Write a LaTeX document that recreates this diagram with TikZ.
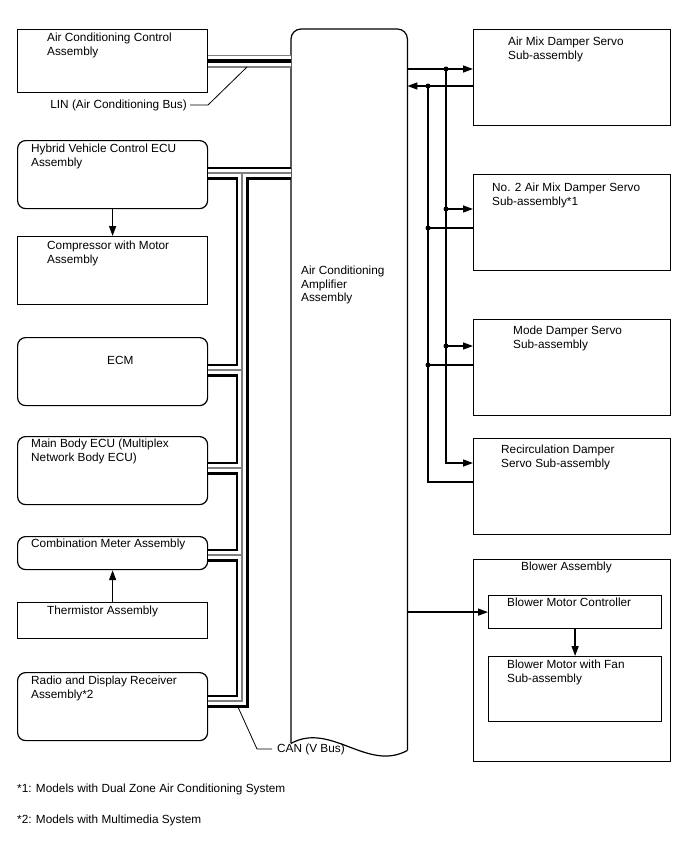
\documentclass[tikz,border=0pt]{standalone}
\usepackage{fontspec}
\setmainfont{Liberation Sans}
\usetikzlibrary{arrows.meta, calc}

\tikzset{
  unit/.style={draw, line width=1.2pt, inner sep=0pt, anchor=north west},
  ecu/.style={unit, rounded corners=8pt},
  txt/.style={inner sep=0pt, anchor=north west, align=left, font=\fontsize{11.8}{13.5}\selectfont},
  conn/.style={line width=1.4pt},
  lead/.style={line width=0.8pt},
  tap/.style={circle, fill, inner sep=0pt, minimum size=5pt},
}

\begin{document}
\begin{tikzpicture}[x=1pt, y=-1pt, >={Triangle[length=10pt,width=7pt]}]
  \useasboundingbox (0,0) rectangle (688,852);
  % left column
  \node[unit, minimum width=190pt, minimum height=63pt] (acc) at (17,29) {};
  \node[ecu, minimum width=190pt, minimum height=68pt] (hv) at (17,140) {};
  \node[unit, minimum width=190pt, minimum height=68pt] (comp) at (17,236) {};
  \node[ecu, minimum width=190pt, minimum height=68pt] (ecm) at (17,337) {};
  \node[ecu, minimum width=190pt, minimum height=68pt] (body) at (17,436) {};
  \node[ecu, minimum width=190pt, minimum height=33pt] (meter) at (17,536) {};
  \node[unit, minimum width=190pt, minimum height=36pt] (therm) at (17,602) {};
  \node[ecu, minimum width=190pt, minimum height=68pt] (radio) at (17,672) {};
  % right column
  \node[unit, minimum width=197pt, minimum height=96pt] (amd) at (473,29) {};
  \node[unit, minimum width=197pt, minimum height=96pt] (no2) at (473,174) {};
  \node[unit, minimum width=197pt, minimum height=96pt] (mode) at (473,319) {};
  \node[unit, minimum width=197pt, minimum height=96pt] (recirc) at (473,438) {};
  \node[unit, minimum width=197pt, minimum height=202pt] (blower) at (473,559) {};
  \node[unit, minimum width=173pt, minimum height=33pt] (bmc) at (488,595) {};
  \node[unit, minimum width=173pt, minimum height=65pt] (bmf) at (488,656) {};
  % amplifier, cut off at the bottom
  \node[inner sep=0pt, anchor=north west, minimum width=116pt, minimum height=714pt] (amp) at (291,29) {};
  \draw[line width=1.2pt, rounded corners=10pt] (amp.south west) -- (amp.north west)
    -- (amp.north east) -- ([yshift=-7pt]amp.south east);
  \draw[line width=1.2pt] ([yshift=-7pt]amp.south east) .. controls +(-40,22) and +(40,-22) .. (amp.south west);

  % LIN bus
  \foreach \w/\c in {13/gray, 10.5/white, 4/black}
    \draw[line width=\w pt, draw=\c] (acc.east |- 0,61) -- (amp.west |- 0,61);
  % CAN bus
  \coordinate (canT) at (242,173);
  \coordinate (canB) at (242,701);
  \foreach \w/\c in {13/black, 8/white, 1.2/gray}
    \draw[line width=\w pt, draw=\c] (hv.east |- canT) -- (amp.west |- canT)
      (canT) -- (canB) -- (radio.east |- canB)
      (ecm.east |- 0,370) -- (canT |- 0,370)
      (body.east |- 0,468) -- (canT |- 0,468)
      (meter.east |- 0,555) -- (canT |- 0,555);
  % bus labels
  \coordinate (linTap) at (247,67);
  \node[txt, anchor=east] (linLbl) at (187,105) {LIN (Air Conditioning Bus)};
  \draw[lead] (linTap) -- (208,105) -- ([xshift=3pt]linLbl.east);
  \coordinate (canTap) at (238,707);
  \node[txt, anchor=west] (canLbl) at (277,749) {CAN (V Bus)};
  \draw[lead] (canTap) -- (257,749) -- ([xshift=-5pt]canLbl.west);

  % damper servo lines
  \coordinate (txTap) at (446,69);
  \coordinate (rxTap) at (428,86);
  \draw[conn,->] (amp.east |- txTap) -- (amd.west |- txTap);
  \draw[conn,->] (amd.west |- rxTap) -- (amp.east |- rxTap);
  \draw[conn,->] (txTap) |- (recirc.west |- 0,463);
  \draw[conn] (rxTap) |- (recirc.west |- 0,482);
  \node[tap] (d1) at (txTap) {};
  \node[tap] (d2) at (rxTap) {};
  \foreach \s/\yt/\yr in {no2/209/228, mode/346/365} {
    \draw[conn,->] (446,\yt) -- (\s.west |- 0,\yt);
    \draw[conn] (428,\yr) -- (\s.west |- 0,\yr);
    \node[tap] (t\s) at (446,\yt) {};
    \node[tap] (r\s) at (428,\yr) {};
  }
  % other arrows
  \draw[conn,->] (amp.east |- bmc.west) -- (bmc.west);
  \draw[conn,->] (bmc.south) -- (bmf.north);
  \draw[conn,->] (hv.south) -- (comp.north);
  \draw[conn,->] (therm.north) -- (meter.south);

  % texts
  \node[txt] (accT) at (47,33) {Air Conditioning Control\\Assembly};
  \node[txt] (hvT) at (31,144) {Hybrid Vehicle Control ECU\\Assembly};
  \node[txt] (compT) at (47,241) {Compressor with Motor\\Assembly};
  \node[txt] (ecmT) at (107,356) {ECM};
  \node[txt] (bodyT) at (31,439) {Main Body ECU (Multiplex\\Network Body ECU)};
  \node[txt] (meterT) at (31,539) {Combination Meter Assembly};
  \node[txt] (thermT) at (47,606) {Thermistor Assembly};
  \node[txt] (radioT) at (31,676) {Radio and Display Receiver\\Assembly*2};
  \node[txt] (ampT) at (301,266) {Air Conditioning\\Amplifier\\Assembly};
  \node[txt] (amdT) at (508,37) {Air Mix Damper Servo\\Sub-assembly};
  \node[txt] (no2T) at (492,183) {No. 2 Air Mix Damper Servo\\Sub-assembly*1};
  \node[txt] (modeT) at (513,326) {Mode Damper Servo\\Sub-assembly};
  \node[txt] (recircT) at (501,445) {Recirculation Damper\\Servo Sub-assembly};
  \node[txt] (blowerT) at (521,562) {Blower Assembly};
  \node[txt] (bmcT) at (507,598) {Blower Motor Controller};
  \node[txt] (bmfT) at (507,660) {Blower Motor with Fan\\Sub-assembly};
  \node[txt] (fn1) at (17,784) {*1: Models with Dual Zone Air Conditioning System};
  \node[txt] (fn2) at (17,815) {*2: Models with Multimedia System};
\end{tikzpicture}
\end{document}
